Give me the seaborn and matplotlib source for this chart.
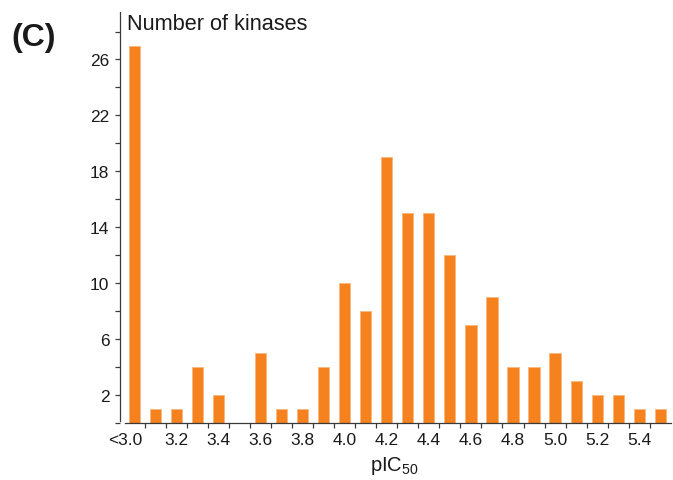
import matplotlib
matplotlib.use("Agg")
import matplotlib.pyplot as plt
from matplotlib.ticker import FixedLocator
from matplotlib.transforms import ScaledTranslation
import numpy as np
import pandas as pd
import seaborn as sns

# pIC50 bins (0.1 wide) and number of kinases in each
bins = ["<3.0", "3.1", "3.2", "3.3", "3.4", "3.5", "3.6", "3.7", "3.8", "3.9",
        "4.0", "4.1", "4.2", "4.3", "4.4", "4.5", "4.6", "4.7", "4.8", "4.9",
        "5.0", "5.1", "5.2", "5.3", "5.4", "5.5"]
counts = [27, 1, 1, 4, 2, 0, 5, 1, 1, 4,
          10, 8, 19, 15, 15, 12, 7, 9, 4, 4,
          5, 3, 2, 2, 1, 1]
x_tick_labels = ["<3.0", "3.2", "3.4", "3.6", "3.8", "4.0", "4.2",
                 "4.4", "4.6", "4.8", "5.0", "5.2", "5.4"]
y_major = [2, 6, 10, 14, 18, 22, 26]
y_minor = [0, 4, 8, 12, 16, 20, 24, 28]

sns.set_theme(style="ticks")
plt.rcParams["font.family"] = ["Liberation Sans", "DejaVu Sans"]
plt.rcParams["mathtext.default"] = "regular"

W, H = 673, 481
fig = plt.figure(figsize=(W / 100, H / 100), dpi=100)
ax = fig.add_axes([120 / W, 1 - 423.7 / H, 550.7 / W, 410.7 / H])

df = pd.DataFrame({"bin": bins, "count": counts})
sns.barplot(data=df, x="bin", y="count", order=bins, color="#F5821F",
            saturation=1, width=0.53, edgecolor="#F9B77C", linewidth=0.6,
            ax=ax)

ax.set_xlim(-0.69, 25.5)
ax.set_ylim(0, 29.4)

axis_col = "#3a3a3a"
text_col = "#1a1a1a"

# x: labels on every second bar, small ticks on the bin edges
ax.xaxis.set_major_locator(FixedLocator(np.arange(0, len(bins), 2)))
ax.set_xticklabels(x_tick_labels)
ax.xaxis.set_minor_locator(FixedLocator(np.arange(0.5, len(bins) - 1, 1)))
ax.tick_params(axis="x", which="major", length=0, pad=6.5,
               labelsize=12.5, labelcolor=text_col)
ax.tick_params(axis="x", which="minor", length=3.6, width=0.9,
               color=axis_col, direction="out")

# the "<" prefix hangs to the left so the number sits under its bar
first = ax.get_xticklabels()[0]
first.set_transform(first.get_transform()
                    + ScaledTranslation(-9 / 100, 0, fig.dpi_scale_trans))

# y: labelled ticks every 4 starting at 2, unlabelled ticks in between
ax.yaxis.set_major_locator(FixedLocator(y_major))
ax.yaxis.set_minor_locator(FixedLocator(y_minor))
ax.tick_params(axis="y", which="both", length=3.6, width=0.9,
               color=axis_col, direction="out")
ax.tick_params(axis="y", which="major", pad=4, labelsize=12.5,
               labelcolor=text_col)

sns.despine(ax=ax)
for side in ("left", "bottom"):
    ax.spines[side].set_color(axis_col)
    ax.spines[side].set_linewidth(0.9)
ax.spines["bottom"].set_bounds(-0.45, 25.5)
ax.spines["left"].set_bounds(0.14, 29.4)

ax.set_ylabel("")
ax.set_xlabel("")
fig.text(394 / W, 1 - 471.5 / H, "pIC$_{50}$", ha="center", va="baseline",
         fontsize=14.5, color=text_col)

fig.text(127 / W, 1 - 30 / H, "Number of kinases", ha="left",
         va="baseline", fontsize=15.7, color=text_col)
fig.text(11 / W, 1 - 46 / H, "(C)", ha="left", va="baseline",
         fontsize=23, fontweight="bold", color=text_col)

fig.savefig("out.png", dpi=100)
